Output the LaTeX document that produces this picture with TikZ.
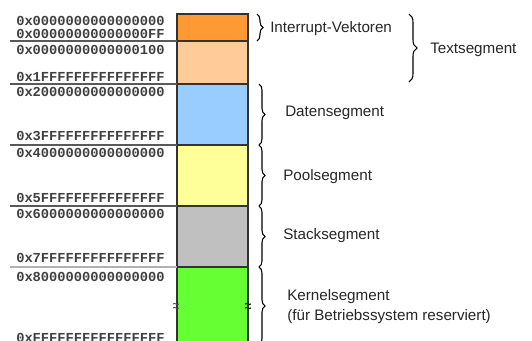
\documentclass[tikz,border=0pt]{standalone}
\usepackage{fontspec}
\setmainfont{Liberation Sans}
\newfontfamily\addrfont{Liberation Mono}
\usetikzlibrary{decorations.pathreplacing}

\definecolor{irqorange}{HTML}{FF9933}
\definecolor{textpeach}{HTML}{FFCC99}
\definecolor{datablue}{HTML}{99CCFF}
\definecolor{poolyellow}{HTML}{FFFF99}
\definecolor{stackgray}{HTML}{C0C0C0}
\definecolor{kernelgreen}{HTML}{66FF33}

\tikzset{
  addr/.style = {anchor = west, inner sep = 0pt,
                 font = \addrfont\bfseries\fontsize{10.3}{12}\selectfont, black!75},
  seglabel/.style = {anchor = west, inner sep = 0pt, align = left,
                     font = \fontsize{11.4}{15}\selectfont, black!85},
  segbrace/.style = {decorate, decoration = {brace, amplitude = #1}, line width = .8pt},
  segbrace/.default = 4.5pt,
  sepline/.style = {line width = 1.1pt, gray!70!black},
  segbox/.style = {draw = black!80, line width = .9pt}
}

\begin{document}
\begin{tikzpicture}[x = .75pt, y = -.75pt]
  \useasboundingbox (0,0) rectangle (532,340);
  \clip (0,0) rectangle (532,340);
  % segment boundaries
  \coordinate (b0) at (177,14);
  \coordinate (b1) at (177,41);
  \coordinate (b2) at (177,84);
  \coordinate (b3) at (177,145);
  \coordinate (b4) at (177,206);
  \coordinate (b5) at (177,267);
  \coordinate (b6) at (177,345);

  % the segments
  \fill [irqorange]   (b0) rectangle (248,41);
  \fill [textpeach]   (b1) rectangle (248,84);
  \fill [datablue]    (b2) rectangle (248,145);
  \fill [poolyellow]  (b3) rectangle (248,206);
  \fill [stackgray]   (b4) rectangle (248,267);
  \fill [kernelgreen] (b5) rectangle (248,360);
  \draw [segbox] (b0) rectangle (248,41);
  \draw [segbox] (b1) rectangle (248,84);
  \draw [segbox] (b2) rectangle (248,145);
  \draw [segbox] (b3) rectangle (248,206);
  \draw [segbox] (b4) rectangle (248,267);
  \draw [segbox] (b5) rectangle (248,360);

  % separators under the addresses
  \draw [sepline] (10,41) -- (b1);
  \draw [sepline] (10,84) -- (b2);
  \draw [sepline] (10,145) -- (b3);
  \draw [sepline] (10,206) -- (b4);
  \draw [sepline, gray!60] (10,267) -- (b5);

  % break marks on the kernel segment
  \draw [line width = .7pt, black!70] (173,304) .. controls (175,302) and (177,306) .. (179,304);
  \draw [line width = .7pt, black!70] (173,308) .. controls (175,306) and (177,310) .. (179,308);
  \draw [line width = .9pt, black!90] (245,304) .. controls (247,302) and (249,306) .. (251,304);
  \draw [line width = .9pt, black!90] (245,308) .. controls (247,306) and (249,310) .. (251,308);

  % addresses
  \node [addr] (a0)  at (16,21)  {0x0000000000000000};
  \node [addr] (a1)  at (16,34)  {0x00000000000000FF};
  \node [addr] (a2)  at (16,50)  {0x0000000000000100};
  \node [addr] (a3)  at (16,77)  {0x1FFFFFFFFFFFFFFF};
  \node [addr] (a4)  at (16,92)  {0x2000000000000000};
  \node [addr] (a5)  at (16,136) {0x3FFFFFFFFFFFFFFF};
  \node [addr] (a6)  at (16,153) {0x4000000000000000};
  \node [addr] (a7)  at (16,198) {0x5FFFFFFFFFFFFFFF};
  \node [addr] (a8)  at (16,214) {0x6000000000000000};
  \node [addr] (a9)  at (16,258) {0x7FFFFFFFFFFFFFFF};
  \node [addr] (a10) at (16,277) {0x8000000000000000};
  \node [addr] (a11) at (16,338) {0xFFFFFFFFFFFFFFFF};

  % braces and segment names
  \draw [segbrace] (257,14) -- (257,41);
  \node [seglabel] (irq) at (270,29) {Interrupt-Vektoren};
  \draw [segbrace = 6pt] (409,14) -- (409,82);
  \node [seglabel] (text) at (430,50) {Textsegment};
  \draw [segbrace] (259,84) -- (259,145);
  \node [seglabel] (data) at (285,113) {Datensegment};
  \draw [segbrace] (259,145) -- (259,206);
  \node [seglabel] (pool) at (283,177) {Poolsegment};
  \draw [segbrace] (259,206) -- (259,267);
  \node [seglabel] (stack) at (283,236) {Stacksegment};
  \draw [segbrace] (259,267) -- (259,345);
  \node [seglabel] (kernel) at (287,307) {Kernelsegment\\(für Betriebssystem reserviert)};
\end{tikzpicture}
\end{document}
